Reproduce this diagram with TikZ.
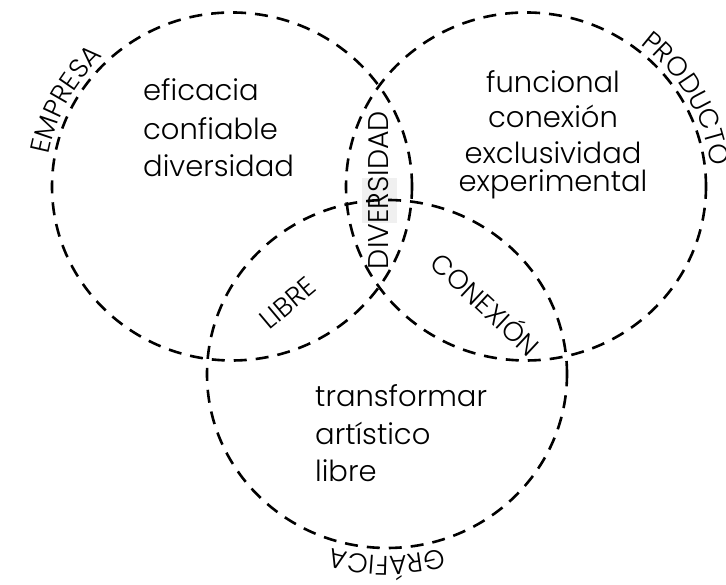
\documentclass[tikz,border=0pt]{standalone}
\usepackage{fontspec}
\IfFontExistsTF{Poppins Light}{\setmainfont{Poppins Light}}{\setmainfont{Poppins}}
\usetikzlibrary{decorations.text}
\newcommand{\bigtxt}{\fontsize{29}{36}\selectfont}
\newcommand{\lbltxt}{\fontsize{27}{30}\selectfont}
\newcommand{\divtxt}{\fontsize{28.5}{30}\selectfont}
\tikzset{
  ring/.style={draw=black, line width=2.6pt, dash pattern=on 13pt off 9pt},
  word/.style={inner sep=0pt, font=\bigtxt, text=black},
  lbl/.style={inner sep=0pt, font=\lbltxt, text=black},
}
\begin{document}
\begin{tikzpicture}[x=1pt,y=1pt]
\useasboundingbox (0,0) rectangle (726,585);
\fill[white] (0,0) rectangle (726,585);
\coordinate (c1) at (232,398.5);
\coordinate (c2) at (526,398.5);
\coordinate (c3) at (387,211);
% highlight behind DIVERSIDAD
\fill[black!6] (362,362) rectangle (397,407);
% circles
\draw[ring] (c1) ellipse [x radius=180pt, y radius=174pt];
\draw[ring] (c2) ellipse [x radius=180pt, y radius=174pt];
\draw[ring] (c3) ellipse [x radius=180pt, y radius=174pt];
% labels along circles
\path[decorate, decoration={text along path, text align=center, text={|\lbltxt|EMPRESA}}]
  ([shift={(194:186pt and 180pt)}]c1) arc[start angle=194, end angle=110, x radius=186pt, y radius=180pt];
\path[decorate, decoration={text along path, text align=center, text={|\lbltxt|PRODUCTO}}]
  ([shift={(72:186pt and 180pt)}]c2) arc[start angle=72, end angle=-14, x radius=186pt, y radius=180pt];
\path[decorate, decoration={text along path, text align=center, text={|\lbltxt|GRÁFICA}}]
  ([shift={(-48:188pt and 182pt)}]c3) arc[start angle=-48, end angle=-132, x radius=188pt, y radius=182pt];
% intersection labels
\node[lbl, font=\divtxt, rotate=90] (div) at (379,395) {DIVERSIDAD};
\node[lbl, rotate=40] (lib) at (288,282) {LIBRE};
\node[lbl, rotate=-43] (con) at (487,282) {CONEXIÓN};
% empresa words
\node[word, anchor=base west] (e1) at (143,484) {eficacia};
\node[word, anchor=base west] (e2) at (143,445) {confiable};
\node[word, anchor=base west] (e3) at (143,408) {diversidad};
% producto words
\node[word, anchor=base] (p1) at (553,492) {funcional};
\node[word, anchor=base] (p2) at (553,457) {conexión};
\node[word, anchor=base] (p3) at (553,421) {exclusividad};
\node[word, anchor=base] (p4) at (553,393) {experimental};
% grafica words
\node[word, anchor=base west] (g1) at (315,178) {transformar};
\node[word, anchor=base west] (g2) at (315,140) {artístico};
\node[word, anchor=base west] (g3) at (315,103) {libre};
\end{tikzpicture}
\end{document}
